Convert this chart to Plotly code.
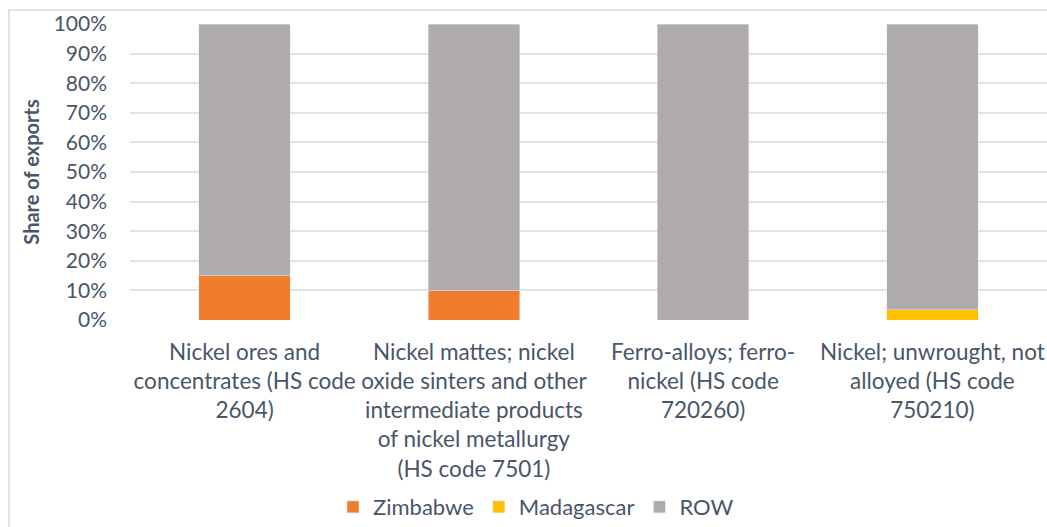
import plotly.graph_objects as go

categories = [
    "Nickel ores and<br>concentrates (HS code<br>2604)",
    "Nickel mattes; nickel<br>oxide sinters and other<br>intermediate products<br>of nickel metallurgy<br>(HS code 7501)",
    "Ferro-alloys; ferro-<br>nickel (HS code<br>720260)",
    "Nickel; unwrought, not<br>alloyed (HS code<br>750210)",
]
zimbabwe = [0.149, 0.098, 0.0, 0.0]
madagascar = [0.0, 0.0, 0.0, 0.034]
row = [0.851, 0.902, 1.0, 0.966]
y_ticks = [i / 10 for i in range(11)]

FONT = "Lato"
TXT = "#485669"

fig = go.Figure()
fig.add_trace(go.Bar(name="Zimbabwe", x=categories, y=zimbabwe, marker_color="#F07D2E"))
fig.add_trace(go.Bar(name="Madagascar", x=categories, y=madagascar, marker_color="#FFC000"))
fig.add_trace(go.Bar(name="ROW", x=categories, y=row, marker_color="#AFABAB"))

fig.update_layout(
    barmode="stack",
    bargap=0.6,
    width=1047,
    height=527,
    margin=dict(l=130, r=0, t=24, b=207, autoexpand=False),
    paper_bgcolor="white",
    plot_bgcolor="white",
    font=dict(family=FONT, color=TXT, size=20),
    legend=dict(
        orientation="h",
        x=0.2214, xanchor="left",
        y=-0.632, yanchor="middle",
        font=dict(size=22, color=TXT),
        traceorder="normal",
        itemclick=False,
    ),
    xaxis=dict(
        automargin=False,
        tickfont=dict(size=22.5, color=TXT),
        showgrid=False,
        showline=False,
        ticks="",
        ticklabelstandoff=16,
    ),
    yaxis=dict(
        automargin=False,
        range=[0, 1.0],
        tickvals=y_ticks,
        tickformat=".0%",
        tickfont=dict(size=21, color=TXT),
        showgrid=True,
        gridcolor="#DFE3E8",
        gridwidth=1.5,
        zeroline=False,
        showline=False,
        ticks="",
        ticklabelstandoff=22,
        title=dict(text="<b>Share of exports</b>", font=dict(size=20, color=TXT), standoff=8),
    ),
    shapes=[
        dict(type="rect", xref="paper", yref="paper",
             x0=(9 - 130) / 917, x1=1.2, y0=-1.0, y1=(320 - 10) / 296,
             line=dict(color="#D9D9D9", width=1.5), fillcolor="rgba(0,0,0,0)", layer="below"),
    ],
)

fig.write_html(
    "out.html",
    config={"displayModeBar": False},
    post_script="document.body.style.margin='0';document.body.style.overflow='hidden';",
)
